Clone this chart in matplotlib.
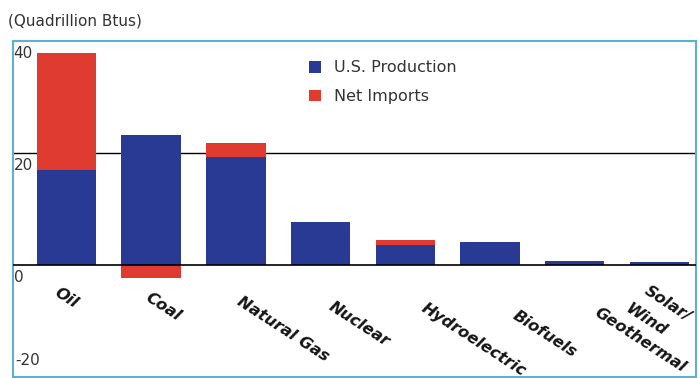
import numpy as np
import matplotlib.pyplot as plt

# Consumo de energia por fuente, en cuatrillones de Btu
fuentes = ['Oil', 'Coal', 'Natural Gas', 'Nuclear', 'Hydroelectric', 'Biofuels',
           'Solar/Wind', 'Geothermal']
produccion = [17.0, 23.2, 19.3, 7.7, 3.6, 4.1, 0.7, 0.5]
importaciones = [20.9, -2.3, 2.5, 0.0, 0.8, 0.0, 0.0, 0.0]
etiquetas_y = [40, 20, 0, -20]

azul = '#283a93'
rojo = '#e03b30'
borde = '#5fb0cc'

plt.rcParams['font.family'] = ['DejaVu Sans']

fig = plt.figure(figsize=(6.99, 3.78), dpi=100)
ax = fig.add_axes([13 / 699, 1 / 378, 683 / 699, 336 / 378])

x = np.arange(len(fuentes))
prod = np.array(produccion)
imp = np.array(importaciones)

ax.axhline(20, color='black', lw=1, zorder=1)
ax.bar(x, prod, width=0.7, color=azul, zorder=2, label='U.S. Production')
ax.bar(x, imp, width=0.7, bottom=np.where(imp > 0, prod, 0), color=rojo,
       zorder=2, label='Net Imports')
ax.axhline(0, color='black', lw=1.2, zorder=3)

ax.set_xlim(-0.63, 7.43)
ax.set_ylim(-20, 40)
ax.set_xticks([])
ax.set_yticks([])
for s in ax.spines.values():
    s.set_color(borde)
    s.set_linewidth(1.5)

# Etiquetas del eje y dentro del recuadro
for v in etiquetas_y:
    if v == -20:
        ax.text(0.003, v + 1.6, '-20', transform=ax.get_yaxis_transform(),
                ha='left', va='bottom', fontsize=11, color='#333333')
    else:
        ax.text(0.001, v - 0.9, str(v), transform=ax.get_yaxis_transform(),
                ha='left', va='top', fontsize=11, color='#333333')

# Nombres de las fuentes, inclinados debajo de cada barra
estilo = dict(rotation=-33, rotation_mode='anchor', ha='left', va='top',
              fontsize=11.5, fontweight='bold', fontstyle='oblique',
              color='#151515', clip_on=False)
bajada = [3.6, 4.4, 5.2, 6.0, 6.3, 7.6]
for i in range(6):
    ax.text(-0.08 + 1.082 * i, -bajada[i], fuentes[i], **estilo)
ax.text(6.88, -3.3, 'Solar/', **estilo)
ax.text(6.66, -6.4, 'Wind', **estilo)
ax.text(6.30, -7.2, 'Geothermal', **estilo)

fig.text(8 / 699, 1 - 21 / 378, '(Quadrillion Btus)', ha='left', va='center',
         fontsize=11, color='#333333')

ax.legend(loc='upper left', bbox_to_anchor=(0.412, 0.985), frameon=False,
          handlelength=0.75, handleheight=0.75, handletextpad=0.8,
          labelspacing=0.85, fontsize=11.5, labelcolor='#333333')

fig.savefig('out.png', dpi=100)
